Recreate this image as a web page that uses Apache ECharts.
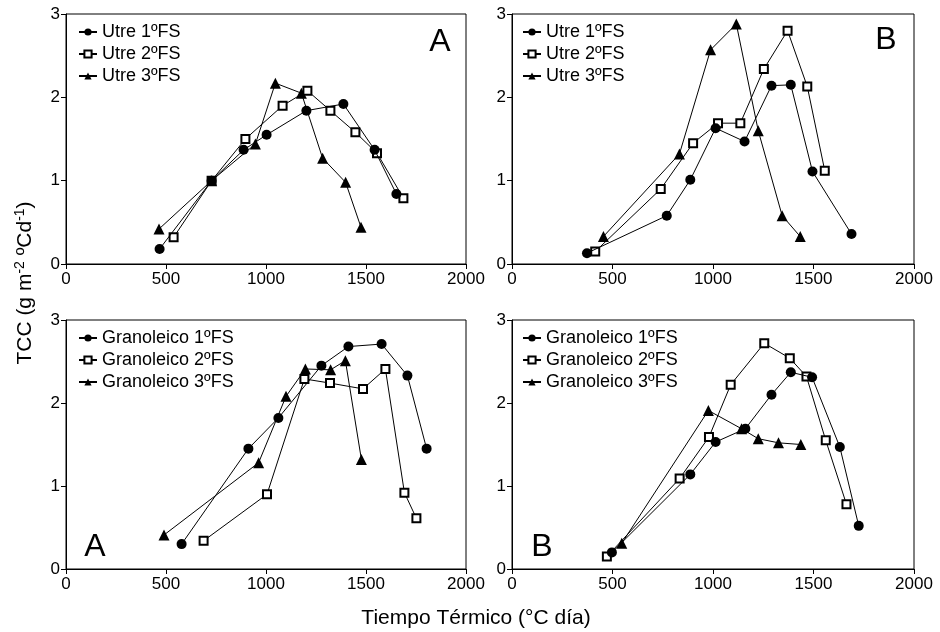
<!DOCTYPE html>
<html>
<head>
<meta charset="utf-8">
<script src="https://cdn.jsdelivr.net/npm/echarts@6/dist/echarts.min.js"></script>
<style>
  html, body { margin: 0; padding: 0; background: #fff; }
  #chart { width: 940px; height: 632px; }
</style>
</head>
<body>
<div id="chart"></div>
<script>
// Tick labels
const xTicks = [0, 500, 1000, 1500, 2000];
const yTicks = [0, 1, 2, 3];

// Utre, panel A: [tiempo térmico, TCC]
const utreA1 = [[468, 0.18], [728, 1.00], [888, 1.37], [1003, 1.55], [1202, 1.84], [1387, 1.92], [1543, 1.37], [1652, 0.84]];
const utreA2 = [[538, 0.32], [728, 1.00], [897, 1.50], [1083, 1.90], [1207, 2.08], [1322, 1.84], [1447, 1.58], [1555, 1.33], [1687, 0.79]];
const utreA3 = [[465, 0.42], [728, 1.00], [947, 1.44], [1047, 2.17], [1177, 2.05], [1283, 1.27], [1398, 0.98], [1475, 0.44]];

// Utre, panel B
const utreB1 = [[373, 0.13], [770, 0.58], [887, 1.01], [1013, 1.63], [1157, 1.47], [1291, 2.14], [1387, 2.15], [1495, 1.11], [1689, 0.36]];
const utreB2 = [[414, 0.15], [740, 0.90], [901, 1.45], [1025, 1.69], [1136, 1.69], [1253, 2.34], [1371, 2.80], [1469, 2.13], [1556, 1.12]];
const utreB3 = [[455, 0.33], [833, 1.32], [988, 2.57], [1116, 2.88], [1225, 1.60], [1344, 0.58], [1434, 0.33]];

// Granoleico, panel A
const granA1 = [[578, 0.30], [912, 1.45], [1062, 1.82], [1277, 2.45], [1412, 2.68], [1578, 2.71], [1707, 2.33], [1803, 1.45]];
const granA2 = [[688, 0.34], [1005, 0.90], [1192, 2.29], [1320, 2.24], [1485, 2.17], [1597, 2.41], [1692, 0.92], [1752, 0.61]];
const granA3 = [[490, 0.41], [963, 1.28], [1100, 2.08], [1197, 2.41], [1323, 2.40], [1397, 2.51], [1477, 1.32]];

// Granoleico, panel B
const granB1 = [[497, 0.20], [887, 1.14], [1013, 1.53], [1161, 1.69], [1291, 2.10], [1387, 2.37], [1493, 2.31], [1631, 1.47], [1725, 0.52]];
const granB2 = [[472, 0.15], [834, 1.09], [980, 1.59], [1088, 2.22], [1255, 2.72], [1382, 2.54], [1465, 2.32], [1561, 1.55], [1664, 0.78]];
const granB3 = [[546, 0.31], [977, 1.91], [1142, 1.69], [1225, 1.57], [1326, 1.52], [1437, 1.50]];

const panels = [
  { grid: { left: 66, top: 14, width: 400, height: 250 }, legendLeft: 78, legendTop: 23, letter: 'A', lx: 440, ly: 42, variety: 'Utre', data: [utreA1, utreA2, utreA3] },
  { grid: { left: 512, top: 14, width: 402, height: 250 }, legendLeft: 522, legendTop: 23, letter: 'B', lx: 886, ly: 40, variety: 'Utre', data: [utreB1, utreB2, utreB3] },
  { grid: { left: 66, top: 320, width: 400, height: 249 }, legendLeft: 78, legendTop: 329, letter: 'A', lx: 95, ly: 547, variety: 'Granoleico', data: [granA1, granA2, granA3] },
  { grid: { left: 512, top: 320, width: 402, height: 249 }, legendLeft: 522, legendTop: 329, letter: 'B', lx: 542, ly: 547, variety: 'Granoleico', data: [granB1, granB2, granB3] }
];

const font = 'Liberation Sans, Arial, sans-serif';
const markers = [
  { symbol: 'circle', symbolSize: 10, itemStyle: { color: '#000' } },
  { symbol: 'rect', symbolSize: 8, itemStyle: { color: '#fff', borderColor: '#000', borderWidth: 2 } },
  { symbol: 'triangle', symbolSize: 11, itemStyle: { color: '#000' } }
];
const stages = ['1ºFS', '2ºFS', '3ºFS'];

const chart = echarts.init(document.getElementById('chart'));

const grids = [], xAxes = [], yAxes = [], legends = [], series = [], graphics = [];

panels.forEach((p, i) => {
  grids.push(Object.assign({ show: true, borderColor: '#000', borderWidth: 1, backgroundColor: 'transparent' }, p.grid));
  xAxes.push({
    gridIndex: i, type: 'value', min: xTicks[0], max: xTicks[xTicks.length - 1], interval: 500,
    axisLine: { lineStyle: { color: '#000', width: 1 } },
    axisTick: { show: true, inside: false, length: 5, lineStyle: { color: '#000' } },
    axisLabel: { color: '#000', fontSize: 17, fontFamily: font, margin: 7, formatter: v => String(v) },
    splitLine: { show: false }
  });
  yAxes.push({
    gridIndex: i, type: 'value', min: yTicks[0], max: yTicks[yTicks.length - 1], interval: 1,
    axisLine: { show: true, lineStyle: { color: '#000', width: 1 } },
    axisTick: { show: true, inside: false, length: 5, lineStyle: { color: '#000' } },
    axisLabel: { color: '#000', fontSize: 17, fontFamily: font, margin: 6, formatter: v => String(v) },
    splitLine: { show: false }
  });
  const names = stages.map(s => p.variety + ' ' + s + (i % 2 === 0 ? '' : '\u200b'));
  legends.push({
    left: p.legendLeft, top: p.legendTop, orient: 'vertical', padding: 0,
    itemWidth: 18, itemHeight: 9, itemGap: 4,
    textStyle: { color: '#000', fontSize: 18, fontFamily: font, lineHeight: 18 },
    data: names.map(n => ({ name: n })),
    selectedMode: false
  });
  p.data.forEach((d, k) => {
    series.push(Object.assign({
      name: names[k], type: 'line', xAxisIndex: i, yAxisIndex: i,
      data: d, lineStyle: { color: '#000', width: 1 },
      showAllSymbol: true, animation: false, z: 5 - k
    }, markers[k]));
  });
  graphics.push({
    type: 'text', x: p.lx, y: p.ly,
    style: { text: p.letter, fill: '#000', font: '32px ' + font, align: 'center', verticalAlign: 'middle' }
  });
});

graphics.push({
  type: 'text', x: 476, y: 618,
  style: { text: 'Tiempo Térmico (°C día)', fill: '#000', font: '21px ' + font, align: 'center', verticalAlign: 'middle' }
});
graphics.push({
  type: 'text', x: 25, y: 283, rotation: Math.PI / 2,
  style: {
    text: '{a|TCC (g m}{s|-2}{a| ºCd}{s|-1}{a|)}',
    align: 'center', verticalAlign: 'middle',
    rich: {
      a: { fontSize: 21, fontFamily: font, color: '#000' },
      s: { fontSize: 14, fontFamily: font, color: '#000', padding: [0, 0, 10, 0] }
    }
  }
});

chart.setOption({
  animation: false,
  grid: grids,
  xAxis: xAxes,
  yAxis: yAxes,
  legend: legends,
  series: series,
  graphic: graphics
});
</script>
</body>
</html>
